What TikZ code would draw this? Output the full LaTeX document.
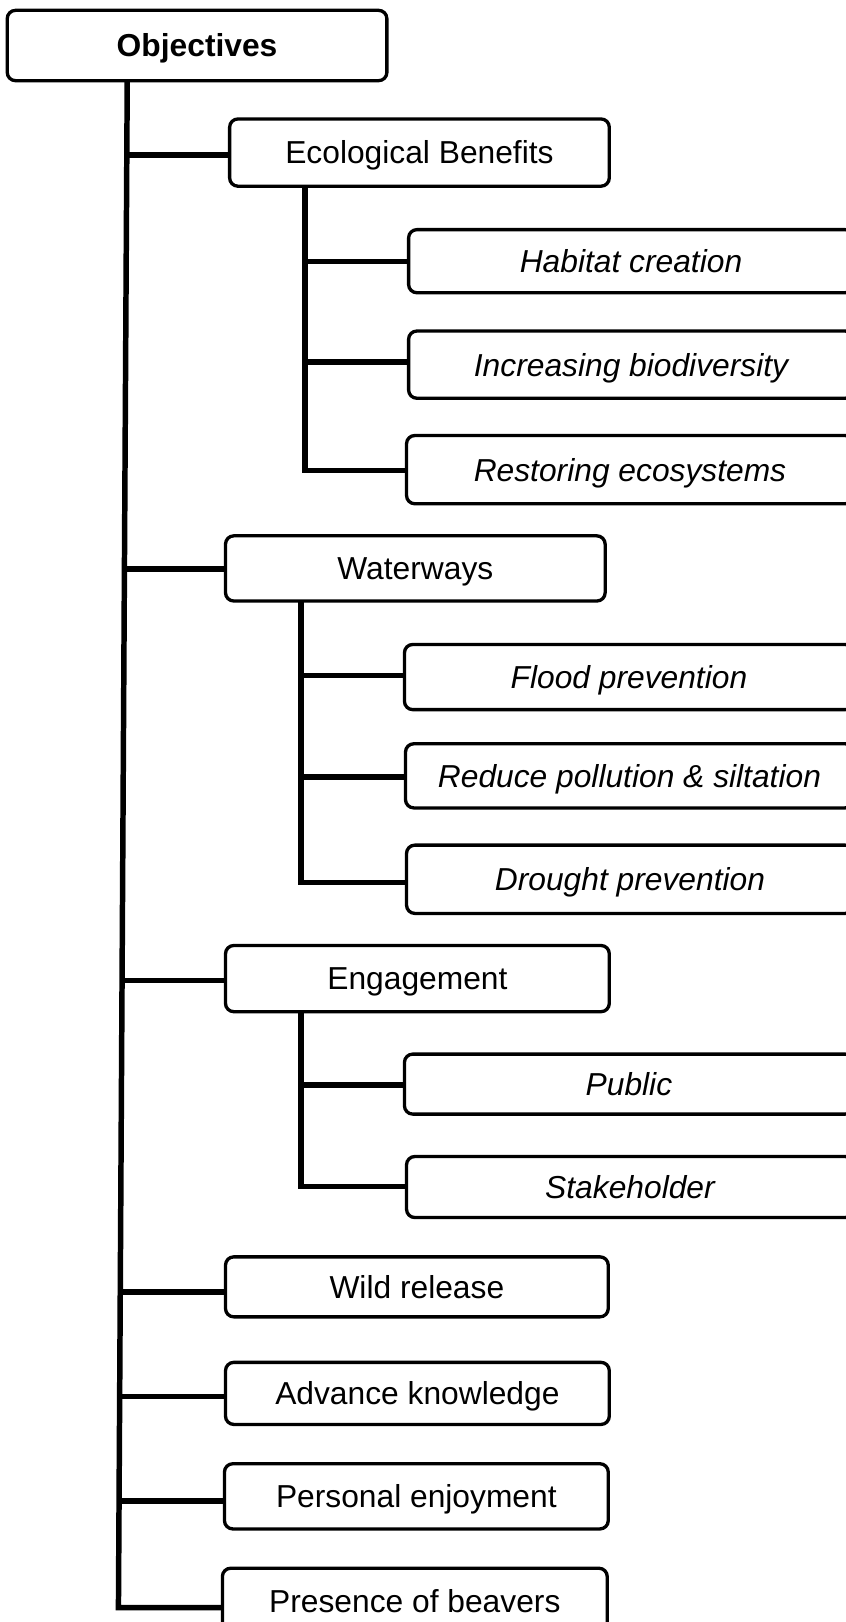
\documentclass[tikz,border=0pt]{standalone}
\usepackage{fontspec}
\setmainfont{Liberation Sans}
\begin{document}
\begin{tikzpicture}[x=1pt,y=-1pt,
  box/.style={draw=black, line width=3.2pt, rounded corners=8pt, inner sep=0pt,
    font=\fontsize{30.7pt}{36pt}\selectfont, text height=22pt, text depth=0pt, align=center},
  sub/.style={box, font=\fontsize{30.7pt}{36pt}\selectfont\itshape},
  conn/.style={draw=black, line width=5.3pt}]
\useasboundingbox (0,0) rectangle (817,1568);
% boxes
\node[box, font=\fontsize{30.7pt}{36pt}\selectfont\bfseries, minimum width=367pt, minimum height=68pt] (obj) at (190.5,44) {Objectives};
\node[box, minimum width=367pt, minimum height=65pt] (eco) at (405.5,147.5) {Ecological Benefits};
\node[sub, minimum width=430pt, minimum height=61pt] (hab) at (610,252.5) {Habitat creation};
\node[sub, minimum width=430pt, minimum height=65pt] (bio) at (610,352.5) {Increasing biodiversity};
\node[sub, minimum width=432pt, minimum height=66pt] (rest) at (609,454) {Restoring ecosystems};
\node[box, minimum width=367pt, minimum height=63pt] (ww) at (401.5,549.5) {Waterways};
\node[sub, minimum width=434pt, minimum height=63pt] (flood) at (608,654.5) {Flood prevention};
\node[sub, minimum width=433pt, minimum height=62pt] (poll) at (608.5,750) {Reduce pollution \& siltation};
\node[sub, minimum width=432pt, minimum height=66pt] (drought) at (609,850) {Drought prevention};
\node[box, minimum width=371pt, minimum height=64pt] (eng) at (403.5,946) {Engagement};
\node[sub, minimum width=434pt, minimum height=58pt] (pub) at (608,1048) {Public};
\node[sub, minimum width=432pt, minimum height=59pt] (stake) at (609,1147.5) {Stakeholder};
\node[box, minimum width=370pt, minimum height=58pt] (wild) at (403,1244) {Wild release};
\node[box, minimum width=371pt, minimum height=60pt] (adv) at (403.5,1347) {Advance knowledge};
\node[box, minimum width=371pt, minimum height=63pt] (pers) at (402.5,1446.5) {Personal enjoyment};
\node[box, minimum width=372pt, minimum height=64pt] (pres) at (401,1548) {Presence of beavers};
% main trunk
\coordinate (ttop) at (123,78);
\coordinate (tbot) at (114.5,1554);
\coordinate (teco) at (122.6,150);
\coordinate (tww) at (120.3,550);
\coordinate (teng) at (118.0,948);
\coordinate (twild) at (116.3,1249);
\coordinate (tadv) at (115.7,1350);
\coordinate (tpers) at (115.1,1451);
\draw[conn] (ttop) -- (tbot) -- (tbot -| pres.west);
\draw[conn] (teco) -- (teco -| eco.west);
\draw[conn] (tww) -- (tww -| ww.west);
\draw[conn] (teng) -- (teng -| eng.west);
\draw[conn] (twild) -- (twild -| wild.west);
\draw[conn] (tadv) -- (tadv -| adv.west);
\draw[conn] (tpers) -- (tpers -| pers.west);
% ecological sub-trunk
\coordinate (etop) at (295,180);
\coordinate (ebot) at (295,455);
\coordinate (ehab) at (295,253);
\coordinate (ebio) at (295,350);
\draw[conn] (etop) -- (ebot) -- (ebot -| rest.west);
\draw[conn] (ehab) -- (ehab -| hab.west);
\draw[conn] (ebio) -- (ebio -| bio.west);
% waterways sub-trunk
\coordinate (wtop) at (291,581);
\coordinate (wbot) at (291,853);
\coordinate (wflood) at (291,653);
\coordinate (wpoll) at (291,751);
\draw[conn] (wtop) -- (wbot) -- (wbot -| drought.west);
\draw[conn] (wflood) -- (wflood -| flood.west);
\draw[conn] (wpoll) -- (wpoll -| poll.west);
% engagement sub-trunk
\coordinate (gtop) at (291,978);
\coordinate (gbot) at (291,1147);
\coordinate (gpub) at (291,1049);
\draw[conn] (gtop) -- (gbot) -- (gbot -| stake.west);
\draw[conn] (gpub) -- (gpub -| pub.west);
\end{tikzpicture}
\end{document}
